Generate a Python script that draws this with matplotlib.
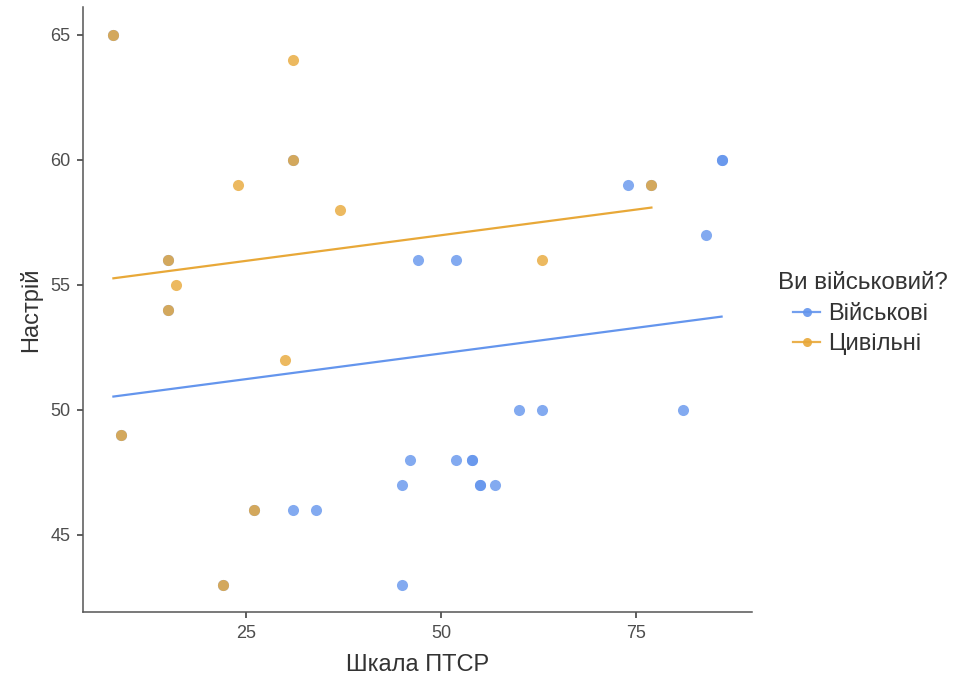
import numpy as np
import matplotlib
matplotlib.use("Agg")
import matplotlib.pyplot as plt
from matplotlib.lines import Line2D

plt.rcParams['font.family'] = ['Liberation Sans', 'DejaVu Sans']

# Шкала ПТСР / настрій, військові
mil_x = [8, 31, 15, 15, 9, 26, 22, 77,
         74, 86, 86, 84, 47, 52, 60, 63, 81,
         46, 52, 54, 54, 45, 55, 55, 57, 31, 34, 45]
mil_y = [65, 60, 56, 54, 49, 46, 43, 59,
         59, 60, 60, 57, 56, 56, 50, 50, 50,
         48, 48, 48, 48, 47, 47, 47, 47, 46, 46, 43]

# цивільні
civ_x = [8, 31, 15, 15, 9, 26, 22, 77, 31, 24, 37, 16, 30, 63]
civ_y = [65, 60, 56, 54, 49, 46, 43, 59, 64, 59, 58, 55, 52, 56]

# модель з однаковим нахилом для обох груп
fit_slope = 0.041
fit_icept_mil = 50.19
fit_icept_civ = 54.92

groups = ['Військові', 'Цивільні']
col_mil = '#6495ED'
col_civ = '#E8A838'

fig = plt.figure(figsize=(9.65, 6.85), dpi=100)
ax = fig.add_axes([83 / 965, 73 / 685, (752 - 83) / 965, (612 - 7) / 685])

ax.scatter(mil_x, mil_y, s=64, color=col_mil, alpha=0.8, linewidths=0, zorder=2)
ax.scatter(civ_x, civ_y, s=64, color=col_civ, alpha=0.8, linewidths=0, zorder=2)

for xs, icept, c in [(mil_x, fit_icept_mil, col_mil), (civ_x, fit_icept_civ, col_civ)]:
    xx = np.array([min(xs), max(xs)])
    ax.plot(xx, icept + fit_slope * xx, color=c, lw=1.6, zorder=3)

ax.set_xlim(4.1, 89.9)
ax.set_ylim(41.9, 66.1)
ax.set_xticks([25, 50, 75])
ax.set_yticks([45, 50, 55, 60, 65])

for side in ['top', 'right']:
    ax.spines[side].set_visible(False)
for side in ['left', 'bottom']:
    ax.spines[side].set_color('#555555')
    ax.spines[side].set_linewidth(1.1)
ax.tick_params(length=4, width=1.1, color='#333333', labelcolor='#4d4d4d',
               labelsize=13, pad=5)

ax.set_xlabel('Шкала ПТСР', fontsize=17, color='#333333', labelpad=9)
ax.set_ylabel('Настрій', fontsize=17, color='#333333', labelpad=6)

# легенда: заголовок окремо, щоб ключі були з відступом
fig.text(778 / 965, 1 - 283 / 685, 'Ви військовий?', fontsize=17.5,
         color='#333333', ha='left', va='center')
handles = [Line2D([0], [0], color=col_mil, lw=1.6, marker='o', markersize=6.5,
                  markeredgewidth=0, alpha=0.9),
           Line2D([0], [0], color=col_civ, lw=1.6, marker='o', markersize=6.5,
                  markeredgewidth=0, alpha=0.9)]
leg = fig.legend(handles, groups, loc='upper left',
                 bbox_to_anchor=(793 / 965, 1 - 303 / 685), frameon=False,
                 fontsize=17, handlelength=1.15, handletextpad=0.34,
                 labelspacing=0.33, borderpad=0, borderaxespad=0)
for t in leg.get_texts():
    t.set_color('#333333')

fig.savefig('out.png', dpi=100, facecolor='white')
